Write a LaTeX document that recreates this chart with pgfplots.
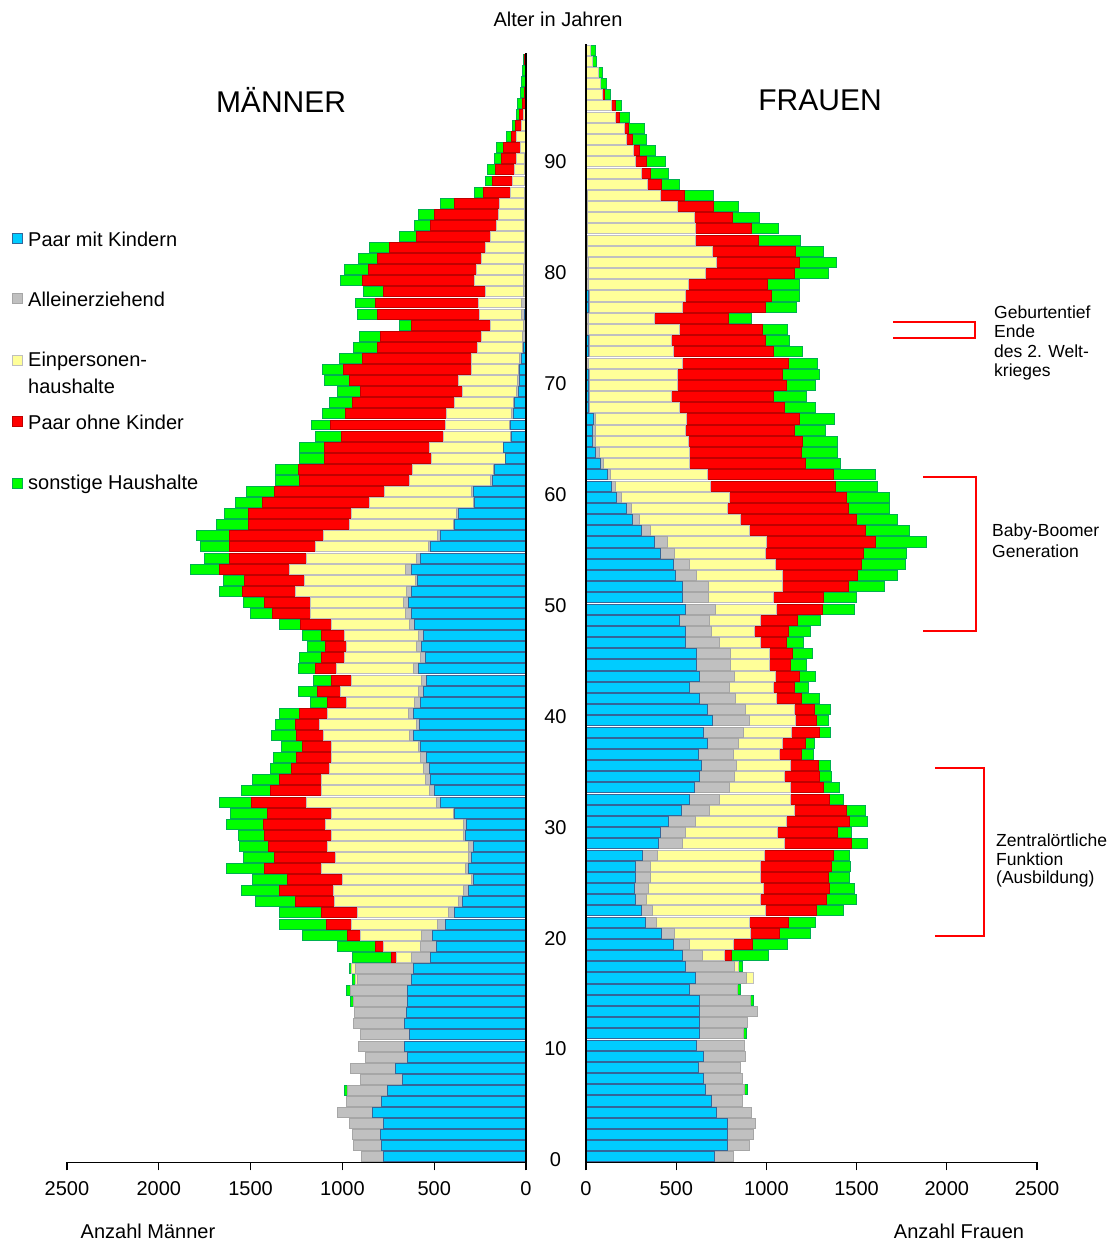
\documentclass[border=0pt]{standalone}
\usepackage{fontspec}
\setmainfont{Liberation Sans}
\usepackage{pgfplots}
\usepackage{pgfplotstable}
\pgfplotsset{compat=1.18}
\definecolor{cBlue}{HTML}{00CCFF}\definecolor{cBlueD}{HTML}{336699}
\definecolor{cGrey}{HTML}{C0C0C0}\definecolor{cGreyD}{HTML}{A6A6A6}
\definecolor{cYel}{HTML}{FFFF99}\definecolor{cYelD}{HTML}{BFBFBF}
\definecolor{cRed}{HTML}{FF0000}\definecolor{cRedD}{HTML}{C00000}
\definecolor{cGrn}{HTML}{00FF00}\definecolor{cGrnD}{HTML}{00B050}
\newcommand\fs[1]{\fontsize{#1}{#1}\selectfont}
% age, Paar mit Kindern, Alleinerziehend, Einpersonenhaushalte, Paar ohne Kinder, sonstige
\pgfplotstableread{
age pmk alz eph pok son
0 777 118 0 0 0
1 786 151 0 0 0
2 795 149 0 0 0
3 777 187 0 0 0
4 835 193 0 0 0
5 786 191 0 0 0
6 755 218 0 0 14
7 672 232 0 0 0
8 713 242 0 0 0
9 645 228 0 0 0
10 663 250 0 0 0
11 635 269 0 0 0
12 664 276 0 0 0
13 653 282 0 0 0
14 645 295 0 0 15
15 645 313 0 0 19
16 623 295 13 0 13
17 614 313 22 0 15
18 519 104 81 31 209
19 490 84 203 40 211
20 510 60 329 72 249
21 437 44 468 137 257
22 387 36 496 194 230
23 345 23 676 214 218
24 314 27 708 291 209
25 287 10 703 300 189
26 314 18 781 309 208
27 296 18 726 331 169
28 287 27 766 320 158
29 332 9 721 360 145
30 323 18 750 340 199
31 387 9 666 347 203
32 468 18 708 300 176
33 496 27 590 276 160
34 519 27 567 227 149
35 528 31 512 205 118
36 541 36 485 187 127
37 572 15 475 154 118
38 614 18 472 145 136
39 581 18 523 136 109
40 614 27 439 156 107
41 577 28 375 102 94
42 559 28 422 126 105
43 541 27 381 113 96
44 583 31 417 113 96
45 550 27 413 123 118
46 568 27 385 111 98
47 559 28 404 122 105
48 605 27 430 165 116
49 623 36 517 204 118
50 641 27 508 246 118
51 623 27 608 286 126
52 592 8 607 326 116
53 623 36 630 378 158
54 572 23 599 422 136
55 519 13 612 472 156
56 468 15 621 512 178
57 387 9 566 550 173
58 369 12 572 559 131
59 278 9 563 584 147
60 287 9 472 603 150
61 181 11 443 596 136
62 169 9 439 623 127
63 109 5 400 586 135
64 120 4 399 577 135
65 78 9 363 554 145
66 82 9 350 623 107
67 69 9 354 550 127
68 60 9 318 557 124
69 42 9 294 555 128
70 38 9 322 593 136
71 33 9 254 699 114
72 24 9 263 594 127
73 15 3 247 545 127
74 5 13 227 545 118
75 3 12 177 434 64
76 10 14 230 554 109
77 5 19 232 563 107
78 3 12 208 554 109
79 3 12 263 612 118
80 3 12 254 590 127
81 3 7 231 567 105
82 3 7 213 521 109
83 0 10 182 407 91
84 0 10 153 356 89
85 0 9 142 348 87
86 0 9 133 245 78
87 0 9 74 149 49
88 0 9 64 108 39
89 0 9 51 105 44
90 0 9 45 79 36
91 0 5 24 95 36
92 0 5 46 27 27
93 0 3 21 32 18
94 0 3 12 21 18
95 0 0 5 13 27
96 0 0 0 8 20
97 0 0 0 5 20
98 0 0 0 5 15
99 0 0 0 8 5
}\maenner
\pgfplotstableread{
age pmk alz eph pok son
0 715 105 0 0 0
1 785 124 0 0 0
2 785 143 0 0 0
3 785 152 0 0 0
4 724 194 0 0 0
5 693 174 0 0 0
6 660 221 0 0 15
7 650 217 0 0 0
8 623 231 0 0 0
9 650 235 0 0 0
10 610 266 0 0 0
11 628 244 0 0 15
12 628 268 0 0 0
13 628 322 0 0 0
14 628 285 0 0 15
15 576 265 0 0 16
16 608 283 40 0 0
17 554 268 22 0 23
18 534 111 120 43 203
19 484 92 244 104 192
20 416 77 420 159 170
21 331 57 517 220 148
22 309 59 628 283 147
23 277 59 629 369 166
24 268 81 634 366 142
25 277 78 610 378 115
26 277 78 610 397 105
27 312 85 590 384 87
28 401 133 564 375 88
29 414 138 509 332 76
30 456 152 504 351 98
31 527 160 466 292 107
32 571 168 396 214 77
33 601 192 342 184 85
34 628 194 277 198 65
35 641 194 296 157 65
36 623 197 250 122 68
37 673 171 244 126 55
38 654 218 268 153 60
39 702 203 254 116 68
40 674 211 268 113 87
41 628 203 226 135 101
42 576 217 245 115 79
43 628 194 226 135 90
44 610 192 214 119 85
45 610 192 214 128 112
46 549 190 226 147 96
47 549 148 236 189 120
48 517 165 283 208 128
49 554 165 338 253 181
50 536 142 360 281 181
51 536 142 410 366 200
52 497 116 475 418 222
53 484 89 475 480 244
54 414 76 506 541 241
55 377 74 550 601 286
56 309 46 554 641 242
57 257 37 565 638 231
58 222 31 532 669 231
59 170 28 595 652 240
60 142 24 525 693 231
61 120 17 536 698 235
62 78 18 480 642 190
63 55 19 502 616 203
64 37 17 513 634 194
65 37 17 495 604 172
66 44 10 504 625 194
67 13 9 495 582 174
68 13 9 453 563 182
69 13 9 484 603 164
70 13 9 484 584 202
71 0 13 523 586 160
72 13 9 462 554 161
73 13 9 453 521 131
74 0 13 504 460 139
75 0 13 366 410 129
76 13 9 514 460 172
77 13 9 527 477 160
78 5 8 554 440 179
79 5 8 647 493 190
80 5 8 711 462 205
81 0 10 692 462 150
82 0 10 598 347 235
83 0 8 600 307 151
84 0 8 591 212 148
85 0 8 498 200 138
86 0 8 406 131 161
87 0 5 335 79 102
88 0 5 300 55 100
89 0 5 270 61 102
90 0 5 257 34 90
91 0 5 220 32 76
92 0 5 207 23 87
93 0 5 156 24 55
94 0 5 137 19 37
95 0 5 86 9 37
96 0 5 73 0 33
97 0 5 63 0 24
98 0 5 30 0 24
99 0 5 21 0 24
}\frauen
\pgfplotsset{
  pyr/.style={
    scale only axis, xbar, bar width=0.9, bar shift=0pt,
    xmin=0, xmax=2500, ymin=-0.5, ymax=99.5,
    axis x line=bottom,
    xtick={0,500,...,2500}, ytick=\empty,
    tick align=outside, major tick length=8pt,
    tick style={black, line width=1.3pt},
    /pgf/number format/1000 sep={}, /pgf/number format/assume math mode=true,
    xticklabel style={font=\fs{20}, yshift=-8pt},
    axis on top, clip=false,
  },
  noarrows/.style={axis line style={-, black, line width=1.3pt},
    every inner x axis line/.append style={-}, every outer x axis line/.append style={-},
    every inner y axis line/.append style={-}, every outer y axis line/.append style={-}},
  sSon/.style={fill=cGrn, draw=cGrnD, line width=1pt},
  sPok/.style={fill=cRed, draw=cRedD, line width=1pt},
  sEph/.style={fill=cYel, draw=cYelD, line width=1pt},
  sAlz/.style={fill=cGrey, draw=cGreyD, line width=1pt},
  sPmk/.style={fill=cBlue, draw=cBlueD, line width=1pt},
}
\newcommand\pyrplots[1]{%
  \addplot[sSon] table[y=age, x expr=\thisrow{pmk}+\thisrow{alz}+\thisrow{eph}+\thisrow{pok}+\thisrow{son}]{#1};
  \addplot[sPok] table[y=age, x expr=\thisrow{pmk}+\thisrow{alz}+\thisrow{eph}+\thisrow{pok}]{#1};
  \addplot[sEph] table[y=age, x expr=\thisrow{pmk}+\thisrow{alz}+\thisrow{eph}]{#1};
  \addplot[sAlz] table[y=age, x expr=\thisrow{pmk}+\thisrow{alz}]{#1};
  \addplot[sPmk] table[y=age, x=pmk]{#1};
}
\begin{document}
\begin{tikzpicture}
\useasboundingbox (0pt,0pt) rectangle (1111pt,1246pt);
\begin{axis}[pyr, at={(67pt,83.5pt)}, anchor=south west, width=459pt, height=1109pt, x dir=reverse, axis y line=right, noarrows]
\pyrplots{\maenner}
\pgfplotsinvokeforeach{0,10,...,90}{\node[font=\fs{20}, anchor=center, yshift=-3pt] at (axis cs:-160,#1) {#1};}
\end{axis}
\begin{axis}[pyr, at={(586pt,83.5pt)}, anchor=south west, width=451pt, height=1118pt, axis y line=left, noarrows]
\pyrplots{\frauen}
\end{axis}
% titles and axis texts
\node[font=\fs{30}] at (281pt,1146pt) {MÄNNER};
\node[font=\fs{30}] at (820pt,1146pt) {FRAUEN};
\node[font=\fs{20}] at (558pt,1227pt) {Alter in Jahren};
\node[font=\fs{20}] at (148pt,15pt) {Anzahl Männer};
\node[font=\fs{20}] at (959pt,15pt) {Anzahl Frauen};
% legend
\begin{scope}[line width=1pt]
\draw[fill=cBlue, draw=cBlueD] (12.5pt,1002pt) rectangle (22.5pt,1012pt);
\draw[fill=cGrey, draw=cGreyD] (12.5pt,942pt) rectangle (22.5pt,952pt);
\draw[fill=cYel, draw=cYelD] (12.5pt,880pt) rectangle (22.5pt,890pt);
\draw[fill=cRed, draw=cRedD] (12.5pt,819pt) rectangle (22.5pt,829pt);
\draw[fill=cGrn, draw=cGrnD] (12.5pt,757pt) rectangle (22.5pt,767pt);
\end{scope}
\begin{scope}[every node/.style={font=\fs{20}, anchor=west, inner sep=0pt}]
\node at (28pt,1007pt) {Paar mit Kindern};
\node at (28pt,947pt) {Alleinerziehend};
\node at (28pt,885pt) {Einpersonen-};
\node at (28pt,860pt) {haushalte};
\node at (28pt,824pt) {Paar ohne Kinder};
\node at (28pt,762pt) {sonstige Haushalte};
\end{scope}
% annotations
\draw[red, line width=1.8pt] (893pt,924pt) -- (975pt,924pt) -- (975pt,908pt) -- (893pt,908pt);
\draw[red, line width=1.8pt] (923pt,769pt) -- (976pt,769pt) -- (976pt,615pt) -- (923pt,615pt);
\draw[red, line width=1.8pt] (935pt,478pt) -- (984pt,478pt) -- (984pt,310pt) -- (935pt,310pt);
\begin{scope}[every node/.style={font=\fs{17.5}, anchor=west, inner sep=0pt}]
\node at (994pt,934pt) {Geburtentief};
\node at (994pt,915pt) {Ende};
\node at (994pt,895pt) {des 2. Welt-};
\node at (994pt,874pt) {krieges};
\node at (992pt,714pt) {Baby-Boomer};
\node at (992pt,695pt) {Generation};
\node at (996pt,406pt) {Zentralörtliche};
\node at (996pt,387pt) {Funktion};
\node at (996pt,367pt) {(Ausbildung)};
\end{scope}
\end{tikzpicture}
\end{document}
